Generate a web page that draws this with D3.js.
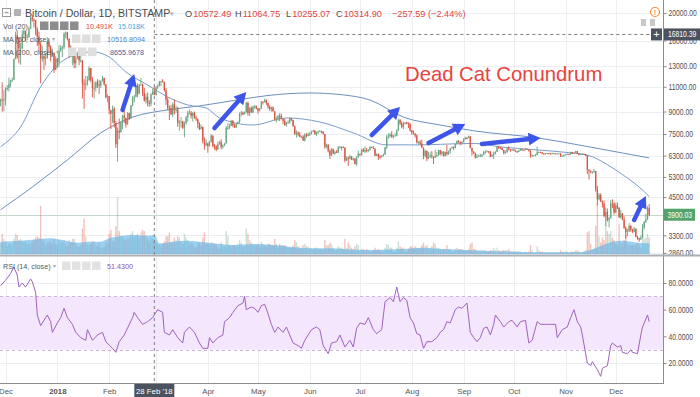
<!DOCTYPE html>
<html>
<head>
<meta charset="utf-8">
<title>Bitcoin / Dollar, 1D, BITSTAMP</title>
<script src="https://cdn.jsdelivr.net/npm/d3@7"></script>
<style>
  body { margin: 0; background: #fff; }
  svg { display: block; font-family: "Liberation Sans", Arial, sans-serif; }
</style>
</head>
<body>
<svg id="chart" width="700" height="397"></svg>
<script>
// Daily bars BTC/USD (Bitstamp), 28 Nov 2017 .. 21 Dec 2018.
// Row = [close, high, low, volume in K BTC]; the open is the previous close.
var firstOpen = 9800;
var nov17 = [[9890,9990,9390,9],[9850,11400,9000,16],[9950,10700,9000,12]];
var dec17 = [[10850,10950,9450,10],[10900,11150,10650,6],[11250,11850,10600,8],[11600,11650,10950,8],
  [11650,11850,11450,7],[13750,13850,11650,12],[16700,17200,13750,16],[16200,17300,13800,15],
  [15000,16300,13300,11],[15000,15700,13150,12],[16800,17400,14900,10],[17300,17600,16300,9],
  [16400,17300,15900,10],[16500,16900,16000,8],[17600,17900,16350,9],[19300,19400,17600,8],
  [19000,19666,18650,10],[18900,19150,17800,11],[17500,18900,16700,13],[16500,17800,15300,14],
  [15500,17200,14600,13],[13800,15800,11300,38],[14100,15300,13500,12],[13800,14300,12600,10],
  [13900,14400,13100,7],[15800,16100,13800,9],[15200,16300,14700,9],[14200,15400,13500,10],
  [14500,15000,14000,8],[12600,14500,12300,12],[13800,14100,12600,8]];
var jan18 = [[13400,13900,12800,7],[14750,15400,12900,11],[15100,15400,14600,9],[15150,15350,14000,10],
  [16900,17100,14900,11],[17100,17250,16300,8],[16200,17100,16000,6],[14900,16300,13900,11],
  [14400,15400,14100,9],[14900,14950,13100,12],[13300,14900,12800,12],[13800,14100,12800,9],
  [14200,14600,13800,6],[13600,14400,13100,6],[13600,14200,13400,7],[11300,13650,10000,20],
  [11200,11700,9200,28],[11300,12000,10700,14],[11600,12000,11100,8],[12800,13000,11550,7],
  [11600,12800,11400,8],[10900,11900,10100,10],[10900,11400,10000,10],[11400,11500,10600,7],
  [11200,11700,10900,6],[11100,11600,10400,9],[11500,11600,10900,5],[11800,12000,11500,5],
  [11200,11850,11100,6],[10100,11250,10000,9],[10200,10350,9700,9]];
var feb18 = [[9100,10200,8800,16],[8850,9100,7800,19],[9200,9450,8200,10],[8200,9350,7900,10],
  [6900,8350,6700,22],[7700,7900,6000,45],[7600,8500,7200,18],[8250,8300,7600,14],
  [8700,8750,7800,14],[8550,9100,8200,12],[8100,8550,7900,11],[8900,8950,8100,13],
  [8500,8900,8400,12],[9450,9500,8500,16],[10000,10200,9400,18],[10150,10300,9700,13],
  [11100,11150,10100,15],[10400,11300,10100,16],[11150,11250,10350,13],[11200,11800,11100,17],
  [10450,11300,10200,19],[9850,10900,9750,18],[10150,10400,9600,15],[9650,10500,9400,12],
  [9600,9850,9350,10],[10350,10450,9400,13],[10572.49,10850,10300,12],[10314.90,11064.75,10255.07,10.491]];
var mar18 = [[10950,11050,10250,9],[11050,11200,10800,8],[11450,11550,11050,7],[11500,11550,11050,6],
  [11450,11700,11400,8],[10700,11450,10600,10],[9900,10900,9500,14],[9300,10100,9100,14],
  [9250,9450,8400,17],[8800,9500,8750,9],[9550,9700,8600,10],[9150,9900,8800,13],
  [9150,9450,8900,11],[8200,9350,7950,14],[8250,8400,7700,13],[8300,8600,7900,10],
  [7900,8350,7800,8],[8200,8300,7300,16],[8600,8700,8100,13],[8900,9050,8300,11],
  [8900,9150,8800,8],[8700,9050,8500,9],[8900,8950,8300,8],[8550,9000,8500,6],
  [8450,8700,8350,5],[8150,8500,7850,9],[7800,8250,7750,9],[7950,8100,7800,7],
  [7100,7950,6950,13],[6850,7300,6600,17],[6950,7200,6800,8]];
var apr18 = [[6800,7000,6450,9],[7050,7100,6770,7],[7400,7500,7000,9],[6800,7420,6730,9],
  [6780,6930,6600,8],[6620,6850,6520,7],[6900,7050,6600,5],[7020,7100,6880,4],
  [6770,7180,6620,9],[6840,6890,6660,6],[6950,6970,6800,6],[7900,8000,6930,18],
  [7900,8200,7750,14],[8000,8150,7820,7],[8350,8400,8000,6],[8050,8400,7920,7],
  [7900,8150,7880,7],[8170,8200,7880,6],[8280,8300,8100,8],[8860,8930,8200,11],
  [8920,9050,8660,9],[8800,9000,8750,6],[8940,9000,8800,6],[9650,9740,8920,20],
  [8870,9750,8700,16],[9280,9320,8670,11],[8930,9380,8920,9],[9350,9430,8900,7],
  [9400,9500,9200,7],[9240,9450,9150,7]];
var may18 = [[9080,9230,8850,8],[9220,9260,9000,6],[9750,9790,9180,10],[9700,9760,9530,8],
  [9850,9990,9700,7],[9650,9950,9500,6],[9370,9650,9200,8],[9190,9470,9050,8],
  [9310,9370,8980,7],[9010,9380,9000,7],[8420,9030,8350,12],[8470,8640,8220,8],
  [8690,8750,8350,5],[8680,8880,8320,8],[8480,8850,8450,7],[8340,8500,8120,7],
  [8060,8500,8020,7],[8240,8260,7950,6],[8240,8380,8170,5],[8530,8580,8160,5],
  [8400,8560,8330,5],[7990,8420,7960,7],[7500,8030,7440,11],[7580,7730,7280,9],
  [7460,7660,7360,6],[7340,7620,7300,5],[7350,7400,7250,4],[7110,7430,7100,7],
  [7460,7550,7060,8],[7380,7560,7290,6],[7490,7600,7360,6]];
var jun18 = [[7520,7620,7380,5],[7640,7700,7470,4],[7710,7760,7630,4],[7490,7750,7450,5],
  [7620,7660,7370,5],[7650,7700,7500,4],[7680,7760,7650,4],[7620,7700,7550,4],
  [7500,7680,7480,3],[6770,7500,6650,11],[6880,6940,6690,7],[6550,6900,6460,7],
  [6310,6620,6130,9],[6640,6700,6280,8],[6400,6660,6390,5],[6490,6560,6330,3],
  [6450,6580,6440,3],[6710,6800,6430,6],[6740,6820,6680,5],[6760,6800,6560,5],
  [6720,6790,6680,4],[6050,6730,5960,12],[6170,6250,6030,5],[6150,6260,5790,9],
  [6250,6340,6100,7],[6090,6280,6080,5],[6150,6190,6040,4],[5880,6170,5860,6],
  [6210,6280,5780,8],[6390,6540,6200,7]];
var jul18 = [[6350,6400,6270,2],[6610,6650,6290,4],[6510,6690,6480,4],[6590,6780,6430,3],
  [6540,6700,6460,4],[6610,6630,6470,3],[6750,6800,6560,2],[6710,6770,6700,2],
  [6660,6800,6640,3],[6290,6680,6270,5],[6390,6400,6280,3],[6240,6390,6070,4],
  [6230,6340,6140,3],[6270,6320,6200,2],[6350,6400,6260,2],[6730,6760,6340,5],
  [7320,7450,6640,8],[7380,7550,7230,7],[7470,7560,7280,5],[7330,7680,7280,5],
  [7400,7450,7220,2],[7400,7550,7380,2],[7720,7800,7370,5],[8400,8480,7700,10],
  [8170,8480,8060,6],[7940,8310,7860,5],[8190,8270,7800,5],[8230,8240,8100,2],
  [8210,8290,8120,2],[8170,8240,7870,4],[7730,8170,7640,6]];
var aug18 = [[7600,7750,7460,6],[7530,7720,7460,5],[7410,7540,7280,6],[7010,7480,6940,5],
  [7030,7090,6900,4],[6940,7150,6850,5],[6720,7150,6690,7],[6280,6720,6120,9],
  [6540,6620,6200,6],[6150,6560,6020,7],[6240,6480,6120,5],[6310,6460,6180,4],
  [6250,6530,6150,6],[6190,6250,5880,9],[6270,6620,6180,8],[6320,6480,6210,5],
  [6580,6600,6290,5],[6390,6600,6300,4],[6490,6550,6310,3],[6270,6530,6250,4],
  [6480,6500,6250,4],[6370,6880,6300,7],[6530,6560,6340,4],[6690,6700,6400,4],
  [6730,6800,6660,2],[6700,6780,6600,2],[6910,6940,6680,4],[7080,7130,6890,5],
  [7040,7140,6980,4],[6980,7060,6850,4],[7030,7080,6880,4]];
var sep18 = [[7190,7260,7000,3],[7270,7340,7150,3],[7260,7330,7200,3],[7360,7400,7250,4],
  [6690,7390,6680,8],[6510,6720,6290,9],[6410,6520,6380,4],[6190,6460,6150,4],
  [6250,6380,6170,3],[6290,6350,6240,3],[6290,6390,6220,3],[6340,6380,6200,3],
  [6480,6540,6320,3],[6500,6580,6400,3],[6520,6580,6480,2],[6500,6530,6410,2],
  [6250,6530,6220,3],[6330,6380,6220,3],[6390,6500,6120,5],[6490,6530,6360,3],
  [6760,6800,6480,5],[6720,6820,6640,3],[6700,6760,6640,2],[6590,6720,6570,3],
  [6430,6590,6360,3],[6470,6560,6390,3],[6680,6710,6450,3],[6640,6790,6560,4],
  [6600,6640,6490,2],[6620,6640,6560,2]];
var oct18 = [[6590,6650,6550,2],[6520,6600,6480,2],[6490,6530,6430,2],[6570,6600,6490,2],
  [6630,6650,6540,2],[6570,6640,6550,1],[6600,6620,6530,1],[6660,6700,6580,2],
  [6620,6660,6600,1],[6560,6630,6500,2],[6270,6570,6190,7],[6310,6350,6240,3],
  [6310,6330,6290,1],[6320,6380,6300,1],[6470,6780,6320,6],[6480,6510,6430,3],
  [6460,6500,6430,2],[6400,6490,6370,2],[6390,6420,6360,1],[6410,6420,6380,1],
  [6420,6440,6390,1],[6410,6440,6390,1],[6400,6430,6360,1],[6420,6450,6390,1],
  [6400,6430,6390,1],[6400,6420,6380,1],[6410,6420,6390,1],[6410,6420,6390,1],
  [6270,6410,6230,3],[6280,6300,6250,2],[6330,6350,6240,2]];
var nov18 = [[6360,6380,6320,2],[6380,6400,6350,2],[6360,6390,6340,1],[6480,6500,6340,2],
  [6410,6490,6380,2],[6450,6460,6400,2],[6530,6550,6440,3],[6410,6530,6380,3],
  [6340,6420,6320,2],[6370,6380,6340,1],[6380,6400,6330,1],[6360,6400,6330,2],
  [6300,6370,6270,3],[5620,6330,5420,17],[5570,5640,5200,18],[5510,5580,5460,8],
  [5510,5540,5440,4],[5560,5660,5480,5],[4790,5560,4700,22],[4420,4930,4200,40],
  [4580,4650,4380,14],[4330,4640,4330,9],[4270,4380,4130,13],[3860,4380,3820,11],
  [3990,4130,3550,30],[3740,4100,3690,18],[3790,3840,3520,16],[4270,4390,3780,18],
  [4260,4420,4110,13],[3970,4320,3900,11]];
var dec18 = [[4200,4300,3950,8],[4130,4300,4080,7],[3820,4140,3800,24],[3940,4060,3780,9],
  [3750,3950,3730,8],[3500,3850,3480,11],[3390,3550,3210,16],[3410,3480,3280,8],
  [3560,3640,3390,7],[3450,3590,3400,7],[3400,3480,3360,7],[3480,3530,3380,7],
  [3260,3490,3250,8],[3220,3290,3180,9],[3190,3240,3130,7],[3230,3300,3200,5],
  [3510,3620,3220,19],[3680,3700,3460,12],[3750,3930,3650,13],[4120,4180,3740,16],
  [3900.03,4250,3850,13]];

// indicator readings: [days since 28 Nov 2017, value]
var ma50 = [[0,6760],[12,7940],[24,11000],[40,13890],[55,14590],[65,14010],[75,12400],[88,11160],
  [100,10130],[112,9490],[123,9260],[131,8550],[151,8070],[171,8540],[191,8270],[211,7570],
  [231,6870],[251,6870],[263,6900],[283,6950],[300,6750],[320,6600],[340,6450],[352,6300],
  [363,5850],[372,5400],[382,4880],[388,4520]];
var ma200 = [[0,4060],[19,4880],[40,6080],[60,7570],[79,8600],[100,9120],[119,9420],[140,9850],
  [160,10250],[185,10460],[205,10300],[221,9880],[241,8600],[263,8070],[283,7700],[322,7260],
  [352,6760],[388,6180]];
var volMa20 = [[0,9.7],[12,10.5],[22,11.6],[30,12.4],[37,11],[46,8.9],[52,9.7],[60,9.7],[65,12.4],
  [72,14.2],[79,15],[88,14.4],[92,15.02],[95,8.4],[103,9.7],[111,10.5],[119,9.7],[127,8.4],
  [139,7.1],[151,7.9],[163,7.1],[173,5.7],[185,4.5],[197,4.5],[217,3.1],[237,3.7],[253,5],
  [267,3.7],[287,2.6],[307,1.8],[327,1.3],[345,1.3],[353,3.1],[359,6.3],[366,9.7],[372,10.5],
  [381,8.9],[388,8.4]];
var rsi14 = [[0,78],[3,82],[6,87],[8,92],[10,86],[11,77],[13,80],[15,77],[18,83],[19,81],[21,73],
  [22,56],[24,48],[25,50],[28,56],[30,51],[31,43],[34,50],[36,54],[38,61],[40,54],[43,49],[45,43],
  [48,39],[51,37],[52,45],[55,37],[58,41],[61,43],[63,36],[67,31],[69,28],[71,36],[74,41],[79,54],
  [80,58],[82,54],[85,49],[88,51],[91,54],[94,60],[97,58],[98,43],[101,41],[103,45],[106,39],
  [109,35],[110,43],[113,47],[116,43],[119,35],[121,31],[124,31],[125,39],[127,35],[130,39],
  [133,41],[134,51],[137,54],[139,58],[142,63],[145,65],[146,70],[147,60],[150,62],[152,61],
  [154,58],[156,63],[158,64],[160,57],[162,49],[164,43],[166,47],[169,43],[171,47],[173,41],
  [175,35],[178,33],[180,31],[182,37],[184,41],[186,45],[189,47],[191,45],[193,33],[196,27],
  [198,35],[201,36],[203,41],[206,32],[209,37],[211,32],[213,46],[215,50],[218,49],[220,54],
  [223,45],[225,42],[228,45],[230,66],[233,69],[235,66],[237,77],[239,66],[241,69],[243,67],
  [245,54],[247,50],[249,42],[251,41],[253,31],[255,36],[258,36],[261,39],[263,43],[265,45],
  [267,51],[269,50],[272,60],[274,62],[276,61],[279,65],[281,43],[283,39],[285,36],[287,39],
  [289,46],[291,47],[293,41],[295,49],[296,56],[299,51],[301,47],[304,51],[306,52],[309,47],
  [311,51],[314,52],[316,35],[318,37],[321,51],[323,49],[326,49],[329,49],[332,49],[333,39],
  [336,45],[339,47],[341,54],[343,60],[345,51],[347,47],[348,41],[351,20],[353,18],[354,21],
  [357,15],[359,10],[360,16],[363,18],[365,33],[366,35],[369,32],[371,33],[372,28],[375,27],
  [377,30],[378,28],[381,27],[383,41],[384,47],[387,56],[388,51]];

// hand-drawn annotation arrows: [[day, price] tail, [day, price] tip]
var arrows = [[[73,9120],[80,12200]], [[128,7870],[147,10540]], [[222,7440],[239,9340]],
  [[256,6970],[278,8140]], [[288,6920],[323,7270]], [[379,3740],[386,4540]]];

var priceTicks = [20000, 16000, 13000, 11000, 9000, 7500, 6300, 5300, 4500, 3900, 3300, 2860];
var rsiTicks = [80, 60, 40, 20];
var hoverDay = 92;         // crosshair bar (28 Feb 2018)
var hoverPrice = 16810.39; // crosshair price

var svg = d3.select('#chart');
var paneR = 663;
var up = '#6ba583', down = '#d75442';
var FONT = '"Liberation Sans", Arial, sans-serif';
var SQ = 0.8; // horizontal squeeze for the narrow price-scale digits

var t0 = Date.UTC(2017, 10, 28), DAY = 864e5;
function dayDate(n) { return new Date(t0 + n * DAY); }

var rows = [].concat(nov17, dec17, jan18, feb18, mar18, apr18, may18, jun18, jul18, aug18,
  sep18, oct18, nov18, dec18);
var candles = [];
var prevClose = firstOpen;
rows.forEach(function(r, i) {
  candles.push({date: dayDate(i), open: prevClose, close: r[0], high: r[1], low: r[2], vol: r[3]});
  prevClose = r[0];
});
var last = candles[candles.length - 1];

var x = d3.scaleUtc().domain([dayDate(0), dayDate(388)]).range([0.5, 649.2]);
var y = d3.scaleLog().domain([2860, 20000]).range([253, 13]);
var yVol = d3.scaleLinear().domain([0, 45]).range([254, 197]);
var yRsi = d3.scaleLinear().domain([20, 80]).range([363, 283]);
function px(d) { return x(dayDate(d[0])); }

// price-scale text: squeezed horizontally so it fits the scale strip
function scaleText(parent, tx, ty, str, fill) {
  return parent.append('text')
    .attr('transform', 'translate(' + tx + ',' + ty + ') scale(' + SQ + ',1)')
    .attr('font-size', 8.5).attr('fill', fill).text(str);
}

svg.append('rect').attr('width', 700).attr('height', 397).attr('fill', '#fff');

var defs = svg.append('defs');
defs.append('clipPath').attr('id', 'clipPrice').append('rect')
  .attr('x', 0).attr('y', 0).attr('width', paneR).attr('height', 255);
defs.append('clipPath').attr('id', 'clipRsi').append('rect')
  .attr('x', 0).attr('y', 257).attr('width', paneR).attr('height', 126);

// grid
var months = d3.utcMonth.range(new Date(Date.UTC(2017, 11, 1)), new Date(Date.UTC(2018, 11, 2)));
var grid = svg.append('g').attr('stroke', '#eceef1').attr('shape-rendering', 'crispEdges');
grid.selectAll('line.v').data(months).join('line').attr('class', 'v')
  .attr('x1', function(d) { return Math.round(x(d)) + 0.5; })
  .attr('x2', function(d) { return Math.round(x(d)) + 0.5; })
  .attr('y1', 0).attr('y2', 383);
grid.selectAll('line.hp').data(priceTicks).join('line').attr('class', 'hp')
  .attr('x1', 0).attr('x2', paneR)
  .attr('y1', function(d) { return Math.round(y(d)) + 0.5; })
  .attr('y2', function(d) { return Math.round(y(d)) + 0.5; });
grid.selectAll('line.hr').data(rsiTicks).join('line').attr('class', 'hr')
  .attr('x1', 0).attr('x2', paneR)
  .attr('y1', function(d) { return Math.round(yRsi(d)) + 0.5; })
  .attr('y2', function(d) { return Math.round(yRsi(d)) + 0.5; });

// RSI pane
var rsiG = svg.append('g').attr('clip-path', 'url(#clipRsi)');
rsiG.append('rect').attr('x', 0).attr('width', paneR)
  .attr('y', yRsi(70)).attr('height', yRsi(30) - yRsi(70)).attr('fill', '#f3e6fd');
rsiG.selectAll('line.band').data([70, 30]).join('line').attr('class', 'band')
  .attr('x1', 0).attr('x2', paneR)
  .attr('y1', function(d) { return Math.round(yRsi(d)) + 0.5; })
  .attr('y2', function(d) { return Math.round(yRsi(d)) + 0.5; })
  .attr('stroke', '#c9b6d6').attr('stroke-dasharray', '3,3');
rsiG.append('path').datum(rsi14)
  .attr('d', d3.line().x(px).y(function(d) { return yRsi(d[1]); }))
  .attr('fill', 'none').attr('stroke', '#a062bf').attr('stroke-width', 1);

// price pane
var pg = svg.append('g').attr('clip-path', 'url(#clipPrice)');
pg.append('line').attr('x1', 0).attr('x2', paneR)
  .attr('y1', Math.round(y(last.close)) + 0.5).attr('y2', Math.round(y(last.close)) + 0.5)
  .attr('stroke', '#c6d8cb');

pg.append('g').selectAll('rect').data(candles).join('rect')
  .attr('x', function(d) { return x(d.date) - 0.7; })
  .attr('width', 1.4)
  .attr('y', function(d) { return yVol(d.vol); })
  .attr('height', function(d) { return yVol(0) - yVol(d.vol); })
  .attr('fill', function(d) { return d.close >= d.open ? up : down; })
  .attr('fill-opacity', 0.35);

pg.append('path').datum(volMa20)
  .attr('d', d3.area().x(px).y0(yVol(0)).y1(function(d) { return yVol(d[1]); }).curve(d3.curveMonotoneX))
  .attr('fill', '#5fb3e6').attr('fill-opacity', 0.62);

var maLine = d3.line().x(px).y(function(d) { return y(d[1]); }).curve(d3.curveMonotoneX);
pg.append('path').datum(ma200).attr('d', maLine)
  .attr('fill', 'none').attr('stroke', '#6d8fc0').attr('stroke-width', 1);
pg.append('path').datum(ma50).attr('d', maLine)
  .attr('fill', 'none').attr('stroke', '#7b9ccb').attr('stroke-width', 1);

var cg = pg.append('g').selectAll('g').data(candles).join('g')
  .attr('stroke', function(d) { return d.close >= d.open ? up : down; })
  .attr('fill', function(d) { return d.close >= d.open ? up : down; });
cg.append('line')
  .attr('x1', function(d) { return x(d.date); }).attr('x2', function(d) { return x(d.date); })
  .attr('y1', function(d) { return y(Math.max(d.high, d.open, d.close)); })
  .attr('y2', function(d) { return y(Math.min(d.low, d.open, d.close)); })
  .attr('stroke-width', 0.9);
cg.append('rect')
  .attr('stroke', 'none')
  .attr('x', function(d) { return x(d.date) - 0.65; }).attr('width', 1.3)
  .attr('y', function(d) { return y(Math.max(d.open, d.close)); })
  .attr('height', function(d) { return Math.max(1, Math.abs(y(d.open) - y(d.close))); });

// crosshair
var hx = x(dayDate(hoverDay));
svg.append('line').attr('x1', hx).attr('x2', hx).attr('y1', 0).attr('y2', 383)
  .attr('stroke', '#7d7d7d').attr('stroke-dasharray', '3,3');
svg.append('line').attr('x1', hx).attr('x2', paneR)
  .attr('y1', Math.round(y(hoverPrice)) + 0.5).attr('y2', Math.round(y(hoverPrice)) + 0.5)
  .attr('stroke', '#7d7d7d').attr('stroke-dasharray', '3,3');

// annotation arrows
var ag = svg.append('g').attr('fill', '#3d55e8').attr('stroke', '#3d55e8');
arrows.forEach(function(a) {
  var x0 = x(dayDate(a[0][0])), y0 = y(a[0][1]);
  var x1 = x(dayDate(a[1][0])), y1 = y(a[1][1]);
  var ang = Math.atan2(y1 - y0, x1 - x0), hl = 12, hw = 6.5;
  var bx = x1 - hl * Math.cos(ang), by = y1 - hl * Math.sin(ang);
  ag.append('line').attr('x1', x0).attr('y1', y0).attr('x2', bx + Math.cos(ang)).attr('y2', by + Math.sin(ang))
    .attr('stroke-width', 4.5).attr('stroke-linecap', 'round');
  ag.append('path').attr('stroke', 'none').attr('d', 'M' + x1 + ',' + y1 +
    'L' + (bx - hw * Math.sin(ang)) + ',' + (by + hw * Math.cos(ang)) +
    'L' + (bx + hw * Math.sin(ang)) + ',' + (by - hw * Math.cos(ang)) + 'Z');
});

svg.append('text').attr('x', 405).attr('y', 81).attr('font-size', 20.3)
  .attr('fill', '#e8433c').text('Dead Cat Conundrum');

// separators and axes
svg.append('line').attr('x1', paneR + 0.5).attr('x2', paneR + 0.5).attr('y1', 0).attr('y2', 384)
  .attr('stroke', '#8c8c8c');
svg.append('line').attr('x1', 0).attr('x2', paneR).attr('y1', 383.5).attr('y2', 383.5)
  .attr('stroke', '#8c8c8c');

function styleScale(g) {
  g.select('.domain').remove();
  g.selectAll('line').attr('stroke', '#8c8c8c');
  g.selectAll('text').attr('font-size', 8.5).attr('fill', '#4f4f4f').attr('font-family', FONT)
    .attr('x', 5 / SQ).attr('transform', 'scale(' + SQ + ',1)');
}
svg.append('g').attr('transform', 'translate(' + (paneR + 0.5) + ',0)')
  .call(d3.axisRight(y).tickValues(priceTicks).tickSize(3).tickFormat(function(d) { return d.toFixed(2); }))
  .call(styleScale);
svg.append('g').attr('transform', 'translate(' + (paneR + 0.5) + ',0)')
  .call(d3.axisRight(yRsi).tickValues(rsiTicks).tickSize(3).tickFormat(function(d) { return d.toFixed(4); }))
  .call(styleScale);

svg.append('rect').attr('x', 0).attr('y', 254.5).attr('width', 700).attr('height', 2).attr('fill', '#a9b0b8');

// month labels; March sits under the crosshair date box, as in the original
var ax = svg.append('g').attr('transform', 'translate(0,383)')
  .call(d3.axisBottom(x).tickValues(months.filter(function(d) { return Math.abs(x(d) - x(dayDate(hoverDay))) > 25; }))
    .tickSize(0).tickPadding(5)
    .tickFormat(function(d) { return d.getUTCMonth() === 0 ? d.getUTCFullYear() : d3.utcFormat('%b')(d); }));
ax.select('.domain').remove();
ax.selectAll('text').attr('font-size', 7.8).attr('fill', '#555').attr('font-family', FONT)
  .attr('font-weight', function(d) { return d.getUTCMonth() === 0 ? 'bold' : null; });

// crosshair and last-price labels
svg.append('rect').attr('x', hx - 20).attr('y', 384).attr('width', 40).attr('height', 13).attr('fill', '#4c525e');
svg.append('text').attr('x', hx).attr('y', 393.5).attr('text-anchor', 'middle').attr('font-size', 7.8)
  .attr('fill', '#fff').text(d3.utcFormat("%d %b '%y")(candles[hoverDay].date));
var hy = y(hoverPrice);
svg.append('rect').attr('x', 651).attr('y', hy - 6).attr('width', 11).attr('height', 12).attr('fill', '#4c525e');
svg.append('text').attr('x', 656.5).attr('y', hy + 3.5).attr('text-anchor', 'middle').attr('font-size', 11)
  .attr('fill', '#fff').text('+');
svg.append('rect').attr('x', 664).attr('y', hy - 6).attr('width', 36).attr('height', 12).attr('fill', '#4c525e');
scaleText(svg, 668, hy + 3, hoverPrice.toFixed(2), '#fff');
var ly = y(last.close);
svg.append('rect').attr('x', 664).attr('y', ly - 6).attr('width', 31).attr('height', 12).attr('fill', '#53a46b');
scaleText(svg, 667.5, ly + 3, last.close.toFixed(2), '#fff');

// top right icons
svg.append('circle').attr('cx', 655).attr('cy', 12).attr('r', 4.5).attr('fill', '#fff')
  .attr('stroke', '#f28c3c').attr('stroke-width', 1.2);
svg.append('text').attr('x', 655).attr('y', 15).attr('text-anchor', 'middle').attr('font-size', 7)
  .attr('font-weight', 'bold').attr('fill', '#f28c3c').text('!');
svg.selectAll('rect.tr').data([641, 650]).join('rect').attr('class', 'tr')
  .attr('x', function(d) { return d; }).attr('y', 19).attr('width', 5).attr('height', 7).attr('fill', '#c8c8c8');

// legends
function icons(x0, yy, n, fill) {
  for (var i = 0; i < n; i++) {
    svg.append('rect').attr('x', x0 + i * 10).attr('y', yy).attr('width', 8.5).attr('height', 8.5).attr('fill', fill);
  }
}
var bar = candles[hoverDay];
var chg = bar.close - bar.open;
svg.append('rect').attr('x', 2.5).attr('y', 8.5).attr('width', 8).attr('height', 8)
  .attr('fill', 'none').attr('stroke', '#9a9a9a');
svg.append('line').attr('x1', 4.5).attr('x2', 8.5).attr('y1', 12.5).attr('y2', 12.5).attr('stroke', '#9a9a9a');
svg.append('rect').attr('x', 14).attr('y', 9).attr('width', 7).attr('height', 7).attr('fill', '#b2b2b2');
svg.append('text').attr('x', 25).attr('y', 17).attr('font-size', 10.6).attr('fill', '#4a4a4a')
  .text('Bitcoin / Dollar, 1D, BITSTAMP');
svg.append('text').attr('x', 170).attr('y', 16).attr('font-size', 7).attr('fill', '#aaa').text('\u25BE');
[['O', bar.open, 185], ['H', bar.high, 235], ['L', bar.low, 286], ['C', bar.close, 336]].forEach(function(p) {
  var t = svg.append('text').attr('x', p[2]).attr('y', 17).attr('font-size', 9.2);
  t.append('tspan').attr('fill', '#4a4a4a').text(p[0]);
  t.append('tspan').attr('fill', '#e0463c').attr('dx', 1).text(p[1].toFixed(2));
});
svg.append('text').attr('x', 392).attr('y', 17).attr('font-size', 9.2).attr('fill', '#e0463c')
  .text(d3.format('.2f')(chg).replace('-', '\u2212') + ' (' +
    d3.format('.2f')(chg / bar.open * 100).replace('-', '\u2212') + '%)');

var small = 7.2;
svg.append('text').attr('x', 3).attr('y', 29).attr('font-size', small).attr('fill', '#555').text('Vol (20)');
icons(40, 21.5, 4, '#8d8d8d');
svg.append('text').attr('x', 86).attr('y', 29).attr('font-size', small).attr('fill', '#e0463c')
  .text(d3.format('.3f')(bar.vol) + 'K');
svg.append('text').attr('x', 118).attr('y', 29).attr('font-size', small).attr('fill', '#3c9fdc').text('15.018K');

svg.append('text').attr('x', 3).attr('y', 42).attr('font-size', small).attr('fill', '#555').text('MA (50, close)');
svg.append('text').attr('x', 52).attr('y', 41).attr('font-size', 6).attr('fill', '#aaa').text('\u25BE');
icons(72, 34.5, 3, '#dedede');
svg.append('text').attr('x', 107).attr('y', 42).attr('font-size', small).attr('fill', '#4a7fce').text('10516.8094');

svg.append('text').attr('x', 3).attr('y', 55).attr('font-size', small).attr('fill', '#555').text('MA (200, close)');
svg.append('text').attr('x', 56).attr('y', 54).attr('font-size', 6).attr('fill', '#aaa').text('\u25BE');
icons(68, 47.5, 3, '#dedede');
svg.append('text').attr('x', 110).attr('y', 55).attr('font-size', small).attr('fill', '#3f5da3').text('8655.9678');

svg.append('text').attr('x', 3).attr('y', 269).attr('font-size', small).attr('fill', '#555').text('RSI (14, close)');
svg.append('text').attr('x', 53).attr('y', 268).attr('font-size', 6).attr('fill', '#aaa').text('\u25BE');
icons(62, 261.5, 4, '#e2e2e2');
svg.append('text').attr('x', 107).attr('y', 269).attr('font-size', small).attr('fill', '#9150b5').text('51.4300');
</script>
</body>
</html>
